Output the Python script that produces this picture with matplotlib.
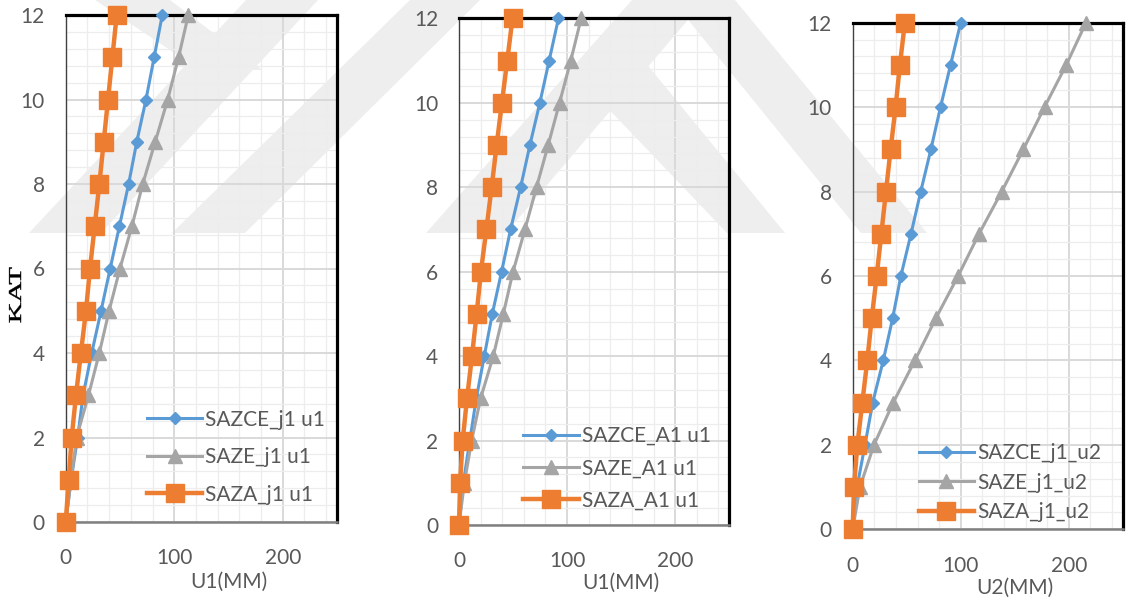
import matplotlib
matplotlib.use('Agg')
import matplotlib.pyplot as plt
from matplotlib.patches import Polygon, PathPatch
from matplotlib.textpath import TextPath
from matplotlib.font_manager import FontProperties
from matplotlib.transforms import Affine2D
from matplotlib.ticker import MultipleLocator

plt.rcParams['font.family'] = ['Lato', 'DejaVu Sans']

# floor levels (KAT)
levels = [0, 1, 2, 3, 4, 5, 6, 7, 8, 9, 10, 11, 12]

# panel 1 : U1 (mm), joint j1
p1_sazce = [0, 5, 11, 16, 24, 32.6, 41, 49.5, 58, 65.5, 74, 81.5, 89]
p1_saze = [0, 5, 10, 21, 31, 40, 50, 61, 71, 82.5, 94, 104, 113]
p1_saza = [0, 2.8, 5.5, 9.5, 14, 18.7, 22.4, 26.7, 31, 35, 39, 43, 47]

# panel 2 : U1 (mm), joint A1
p2_sazce = [0, 4, 10, 16, 23.4, 30.8, 39.4, 47.7, 57, 65.6, 74.8, 83.4, 92]
p2_saze = [0, 5, 11.7, 20, 31.7, 41, 50, 61, 71.7, 82.5, 93, 103.4, 113]
p2_saza = [0, 1, 3.4, 7.4, 12, 16.3, 20.3, 25.3, 30.2, 34.8, 39.7, 44.6, 49.5]

# panel 3 : U2 (mm), joint j1
p3_sazce = [0, 4, 11.4, 18.5, 28.3, 37, 44.6, 54, 63, 72.4, 81.3, 90.6, 100]
p3_saze = [0, 6.7, 19.7, 37.5, 57.6, 77, 97.6, 117, 138, 158, 177.6, 197.7, 216]
p3_saza = [0, 1.2, 4.3, 8.9, 13.5, 17.6, 22.2, 26.5, 30.8, 35.1, 39.7, 43.7, 48.3]

labels1 = ['SAZCE_j1 u1', 'SAZE_j1 u1', 'SAZA_j1 u1']
labels2 = ['SAZCE_A1 u1', 'SAZE_A1 u1', 'SAZA_A1 u1']
labels3 = ['SAZCE_j1_u2', 'SAZE_j1_u2', 'SAZA_j1_u2']

BLUE, GRAY, ORANGE = '#5B9BD5', '#A5A5A5', '#ED7D31'
TXT = '#595959'

W, H = 1133, 607
fig = plt.figure(figsize=(W / 100, H / 100), dpi=100)

# faint background watermark (pixel coords, y down)
wm = [
    [(29, 233), (101, 233), (318, 0), (246, 0)],
    [(172, 233), (245, 233), (480, 0), (410, 0)],
    [(95, 0), (170, 0), (262, 70), (200, 70)],
    [(426, 233), (506, 233), (705, 0), (632, 0)],
    [(672, 0), (735, 0), (927, 233), (861, 233)],
    [(600, 100), (645, 62), (785, 233), (727, 233)],
]
for poly in wm:
    pts = [(x / W, 1 - y / H) for x, y in poly]
    fig.patches.append(Polygon(pts, closed=True, transform=fig.transFigure,
                               fc='#eeeeee', ec='none', zorder=-5))


def make_panel(rect, sazce, saze, saza, labels, xlabel, leg_xy, leg_space, xlab_y):
    ax = fig.add_axes(rect)
    ax.set_facecolor('none')
    kw = dict(clip_on=False, zorder=3)
    ax.plot(sazce, levels, color=BLUE, lw=2.2, marker='D', ms=6.3, label=labels[0], **kw)
    ax.plot(saze, levels, color=GRAY, lw=2.2, marker='^', ms=9.5, label=labels[1], **kw)
    ax.plot(saza, levels, color=ORANGE, lw=3.2, marker='s', ms=12.5, label=labels[2], **kw)

    ax.set_xlim(0, 250)
    ax.set_ylim(0, 12)
    ax.xaxis.set_major_locator(MultipleLocator(100))
    ax.xaxis.set_minor_locator(MultipleLocator(20))
    ax.yaxis.set_major_locator(MultipleLocator(2))
    ax.yaxis.set_minor_locator(MultipleLocator(0.4))
    ax.grid(which='major', color='#d9d9d9', lw=1.4, zorder=0)
    ax.grid(which='minor', color='#ededed', lw=0.9, zorder=0)
    ax.set_axisbelow(True)
    ax.tick_params(which='both', length=0, labelsize=15, labelcolor=TXT)
    ax.tick_params(axis='y', pad=15)
    ax.tick_params(axis='x', pad=19)

    for s in ('top', 'right'):
        ax.spines[s].set_color('black')
        ax.spines[s].set_linewidth(2.3)
    ax.spines['left'].set_color('#404040')
    ax.spines['left'].set_linewidth(1.0)
    ax.spines['bottom'].set_color('#808080')
    ax.spines['bottom'].set_linewidth(1.8)

    ax.set_xlabel(xlabel, fontsize=15, color=TXT)
    ax.xaxis.set_label_coords(0.60, xlab_y)
    ax.xaxis.label.set_va('center')

    leg = ax.legend(loc='center left', bbox_to_anchor=leg_xy, frameon=False,
                    fontsize=15, handlelength=2.65, handletextpad=0.15,
                    borderpad=0, borderaxespad=0, labelspacing=leg_space)
    for t in leg.get_texts():
        t.set_color(TXT)
    return ax


def rect_px(l, r, t, b):
    return [l / W, 1 - b / H, (r - l) / W, (b - t) / H]


ax1 = make_panel(rect_px(65.7, 337, 15, 522), p1_sazce, p1_saze, p1_saza, labels1,
                 'U1(MM)', (0.30, 0.128), 0.84, -0.118)
ax2 = make_panel(rect_px(459, 729.3, 18.3, 525), p2_sazce, p2_saze, p2_saza, labels2,
                 'U1(MM)', (0.238, 0.112), 0.58, -0.114)
ax3 = make_panel(rect_px(852.7, 1122.7, 22.7, 529.3), p3_sazce, p3_saze, p3_saza, labels3,
                 'U2(MM)', (0.245, 0.092), 0.46, -0.116)

# y label "KAT": stretched serif text, as in the original
tp = TextPath((0, 0), 'KAT', size=10, prop=FontProperties(family='Liberation Serif'))
bb = tp.get_extents()
sx = 55 / bb.width
sy = 12 / bb.height
cx, cy = 15, H - 295
tr = (Affine2D().translate(-bb.x0 - bb.width / 2, -bb.y0 - bb.height / 2)
      .scale(sx, sy).rotate_deg(90).translate(cx, cy))
fig.patches.append(PathPatch(tp, transform=tr, fc='black', ec='black', lw=0.3))

fig.savefig('out.png', dpi=100)
